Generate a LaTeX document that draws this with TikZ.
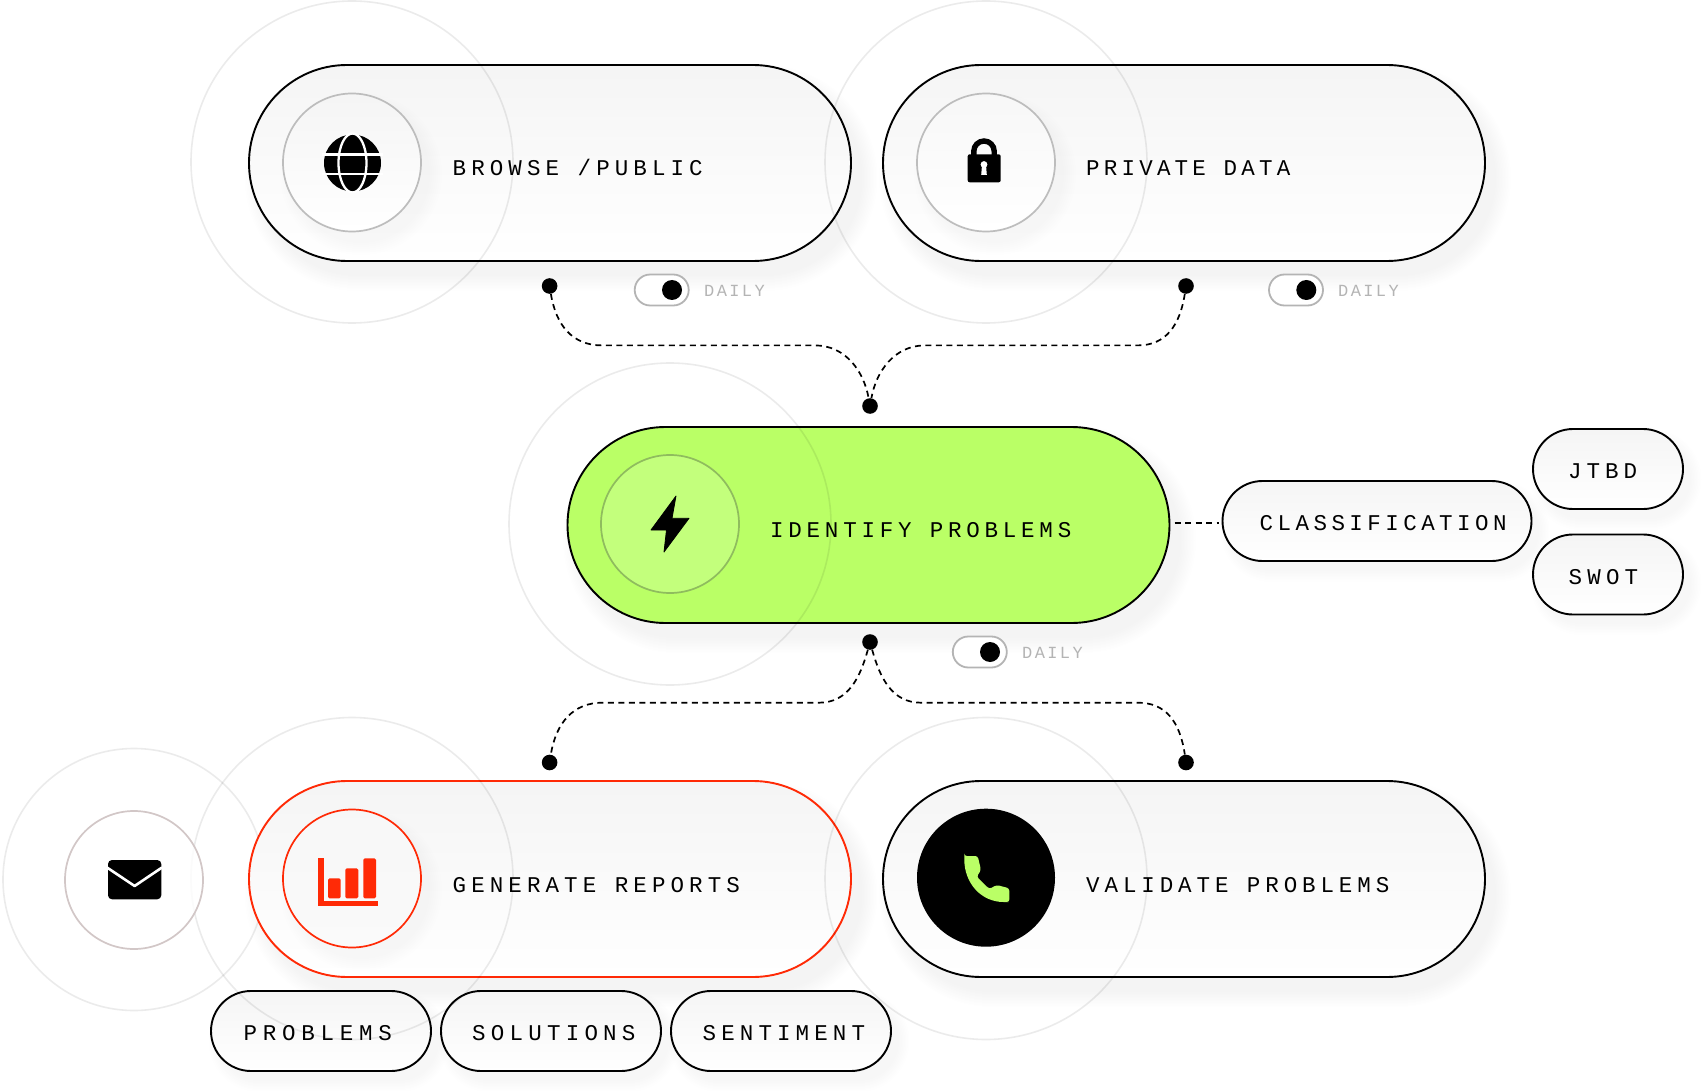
\documentclass[tikz,border=0pt]{standalone}
\usepackage{fontspec}
\usetikzlibrary{shapes.misc}
\newfontfamily\tracklarge{Liberation Mono}
\newfontfamily\trackfaint[LetterSpace=14]{Liberation Mono}
\newcommand\tracked[2]{{\addfontfeature{LetterSpace=#1}#2}}
\definecolor{lime}{HTML}{BAFF66}
\definecolor{limesoft}{HTML}{C3FF7C}
\definecolor{limeedge}{HTML}{8FBC5E}
\definecolor{signal}{HTML}{FF2A06}
\definecolor{edgegrey}{HTML}{BDBDBD}
\definecolor{mailedge}{HTML}{D2C7C7}
\definecolor{faint}{HTML}{B4B4B4}
\tikzset{
  softlayer/.style={black,opacity=.004,line cap=round},
  capsule/.style={rounded rectangle,draw=black,line width=1.9pt,inner sep=0pt,outer sep=0pt,
    top color=black!4,bottom color=white,shading angle=0},
  bigpill/.style={capsule,minimum width=602pt,minimum height=196pt},
  greenpill/.style={rounded rectangle,draw=black,line width=1.9pt,inner sep=0pt,outer sep=0pt,
    fill=lime,minimum width=602pt,minimum height=196pt},
  halo/.style={circle,draw=black,draw opacity=.08,line width=1.6pt,inner sep=0pt,minimum size=322pt},
  mailhalo/.style={circle,draw=black,draw opacity=.08,line width=1.6pt,inner sep=0pt,minimum size=262pt},
  badge/.style={circle,inner sep=0pt,minimum size=138pt,line width=1.7pt},
  pilllabel/.style={anchor=base west,inner sep=0pt,font=\tracklarge\fontsize{22.5}{27}\selectfont},
  toggletrack/.style={rounded rectangle,draw=faint,line width=1.8pt,fill=white,inner sep=0pt,
    minimum width=54pt,minimum height=31pt},
  toggleknob/.style={circle,fill=black,inner sep=0pt,minimum size=20pt},
  togglelabel/.style={anchor=base west,inner sep=0pt,text=faint,font=\trackfaint\fontsize{17}{20}\selectfont},
  port/.style={circle,fill=black,inner sep=0pt,minimum size=15.6pt},
  link/.style={draw=black,line width=1.7pt,dash pattern=on 6pt off 4.5pt},
}
% stacked translucent stadiums give the soft drop shadow: x1, x2, y, height
\newcommand\softstadium[4]{%
  \foreach \spread in {0,1.5,...,15}{%
    \draw[softlayer,line width=#4pt+2*\spread pt] (#1+11,#3+15) -- (#2+11,#3+15);}}
\newcommand\softchip[4]{%
  \foreach \spread in {0,1.5,...,10.5}{%
    \draw[softlayer,line width=#4pt+2*\spread pt] (#1+8,#3+10) -- (#2+8,#3+10);}}
\begin{document}
\begin{tikzpicture}[x=1pt,y=-1pt]
\useasboundingbox (0,0) rectangle (1703,1091);
\fill[white] (0,0) rectangle (1703,1091);

% halo behind the report pill
\node[mailhalo] (mailring) at (134,879.5) {};

% shadows of the large pills and of the chips
\softstadium{346.7}{753.5}{163}{196}
\softstadium{981}{1387}{163}{196}
\softstadium{665}{1072}{525}{196}
\softstadium{346.7}{753.5}{879}{196}
\softstadium{981}{1387}{879}{196}
\softchip{1263}{1491}{521}{80}
\softchip{1573}{1643}{469}{80}
\softchip{1573}{1643}{574}{80}
\softchip{251}{391}{1031}{80}
\softchip{481}{621}{1031}{80}
\softchip{711}{851}{1031}{80}

% large pills
\node[bigpill] (browse) at (550,163) {};
\node[bigpill] (private) at (1184,163) {};
\node[greenpill] (identify) at (868.5,525) {};
\node[bigpill,draw=signal] (reports) at (550,879) {};
\node[bigpill] (validate) at (1184,879) {};

% chips
\node[capsule,minimum width=309pt,minimum height=80pt] (classification) at (1377,521) {};
\node[capsule,minimum width=150pt,minimum height=80pt] (jtbd) at (1608,469) {};
\node[capsule,minimum width=150pt,minimum height=80pt] (swot) at (1608,574.5) {};
\node[capsule,minimum width=220pt,minimum height=80pt] (problems) at (321,1031) {};
\node[capsule,minimum width=220pt,minimum height=80pt] (solutions) at (551,1031) {};
\node[capsule,minimum width=220pt,minimum height=80pt] (sentiment) at (781,1031) {};

% badges inside the pills
\foreach \cx/\cy in {352/163,986/163,352/879}{
  \foreach \spread in {0,2,...,12}{
    \fill[black,opacity=.004] (\cx+9,\cy+11) circle [radius=69+\spread];}}
\node[badge,draw=edgegrey,top color=black!4,bottom color=white] (browsebadge) at (352,162.5) {};
\node[badge,draw=edgegrey,top color=black!3,bottom color=white] (privatebadge) at (986,162.5) {};
\node[badge,draw=limeedge,fill=limesoft] (identifybadge) at (670,524) {};
\node[badge,draw=signal,top color=black!3,bottom color=white!98!black] (reportsbadge) at (352,878.5) {};
\node[badge,fill=black] (validatebadge) at (986,877.7) {};

% globe icon
\fill[black] (352.5,163) circle [radius=28.5];
\draw[white,line width=2.3pt] (352.5,163) ellipse [x radius=14,y radius=29.5];
\draw[white,line width=2.3pt] (322,154.5) -- (383,154.5) (322,173.8) -- (383,173.8);

% padlock icon
\draw[black,line width=5.4pt] (973.8,156) -- (973.8,151.2) arc [start angle=-180,end angle=0,radius=10.2] -- (994.2,156);
\fill[black,rounded corners=2pt] (967.7,154.3) rectangle (1000.7,182.3);
\fill[white] (984,164.5) circle [radius=3.4];
\fill[white] (982,165) -- (986,165) -- (986.8,175) -- (981.2,175) -- cycle;

% lightning bolt icon
\fill[black,draw=black,line width=.8pt,line join=round]
  (676,496) -- (672,518.3) -- (689,518.3) -- (664,552) -- (666.5,530) -- (651,530) -- cycle;

% bar chart icon
\fill[signal] (318,858.3) rectangle (323.7,905.7);
\fill[signal] (318,900.7) rectangle (378,905.7);
\fill[signal,rounded corners=1.5pt] (328,898.3) -- (328,878.3) -- (340.7,878.3) -- (340.7,898.3) -- cycle;
\fill[signal,rounded corners=1.5pt] (345.3,898.3) -- (345.3,868.3) -- (358.3,868.3) -- (358.3,898.3) -- cycle;
\fill[signal,rounded corners=1.5pt] (363.3,898.3) -- (363.3,858.3) -- (376,858.3) -- (376,898.3) -- cycle;

% telephone icon
\fill[lime,rounded corners=2.5pt]
  (964.3,856) -- (977.7,856) -- (981,870) -- (976.7,876.7) -- (989.3,889) -- (996.7,885)
  -- (1009.3,888.3) -- (1009.3,902) -- (1006,902)
  .. controls (982,902) and (964,884) .. (964.3,856) -- cycle;

% labels in the pills
\node[pilllabel] (browselabel) at (452.5,175.5) {\tracked{22.6}{BROWSE /PUBLIC}};
\node[pilllabel] (privatelabel) at (1086,175.5) {\tracked{18.7}{PRIVATE DATA}};
\node[pilllabel] (identifylabel) at (770,537.5) {\tracked{21.2}{IDENTIFY PROBLEMS}};
\node[pilllabel] (reportslabel) at (452.5,892.5) {\tracked{22.6}{GENERATE REPORTS}};
\node[pilllabel] (validatelabel) at (1086,892.5) {\tracked{21.8}{VALIDATE PROBLEMS}};

% labels in the chips
\node[pilllabel] (classificationlabel) at (1259.5,530) {\tracked{19.8}{CLASSIFICATION}};
\node[pilllabel] (jtbdlabel) at (1568,478) {\tracked{22}{JTBD}};
\node[pilllabel] (swotlabel) at (1568.5,584) {\tracked{23}{SWOT}};
\node[pilllabel] (problemslabel) at (243.5,1040) {\tracked{25.5}{PROBLEMS}};
\node[pilllabel] (solutionslabel) at (472,1040) {\tracked{23.2}{SOLUTIONS}};
\node[pilllabel] (sentimentlabel) at (702.5,1040) {\tracked{22.7}{SENTIMENT}};

% halos crossing the pills
\node[halo] (browsering) at (352,162) {};
\node[halo] (privatering) at (986,162) {};
\node[halo] (identifyring) at (670,524) {};
\node[halo] (reportsring) at (352,878.5) {};
\node[halo] (validatering) at (986,878.5) {};

% mail badge sits above the halo next to it
\node[badge,draw=mailedge,fill=white,fill opacity=.8] (mailbadge) at (134,880) {};
\fill[black,rounded corners=4pt] (108,860) rectangle (161.3,899.3);
\draw[white,line width=2.6pt,line join=round] (107,867.5) -- (134.6,886) -- (162,867.5);

% on/off switches
\node[toggletrack] (toggleone) at (661.7,290) {};
\node[toggleknob] (knobone) at (672,290) {};
\node[togglelabel] (dailyone) at (704,296.5) {DAILY};
\node[toggletrack] (toggletwo) at (1296,290) {};
\node[toggleknob] (knobtwo) at (1306.3,290) {};
\node[togglelabel] (dailytwo) at (1338,296.5) {DAILY};
\node[toggletrack] (togglethree) at (979.8,652) {};
\node[toggleknob] (knobthree) at (990,652) {};
\node[togglelabel] (dailythree) at (1022,658.5) {DAILY};

% ports
\node[port] (portbrowse) at (549.6,286) {};
\node[port] (portprivate) at (1186,286) {};
\node[port] (portin) at (870,406) {};
\node[port] (portout) at (870,642) {};
\node[port] (portreports) at (549.6,762.5) {};
\node[port] (portvalidate) at (1186,762.5) {};

% dashed connectors between the ports
\draw[link] (portbrowse) .. controls (556,325) and (572,345.4) .. (602,345.4) -- (815,345.4)
  .. controls (846,345.4) and (864,372) .. (portin);
\draw[link] (portprivate) .. controls (1180,325) and (1166,345.4) .. (1138,345.4) -- (925,345.4)
  .. controls (894,345.4) and (876,372) .. (portin);
\draw[link] (portout) .. controls (860,678) and (848,702.7) .. (819,702.7) -- (602,702.7)
  .. controls (574,702.7) and (556,722) .. (portreports);
\draw[link] (portout) .. controls (880,678) and (892,702.7) .. (921,702.7) -- (1138,702.7)
  .. controls (1166,702.7) and (1180,722) .. (portvalidate);
\draw[link] ([xshift=5pt,yshift=2pt]identify.east) -- ([xshift=-4pt,yshift=-2pt]classification.west);
\end{tikzpicture}
\end{document}
